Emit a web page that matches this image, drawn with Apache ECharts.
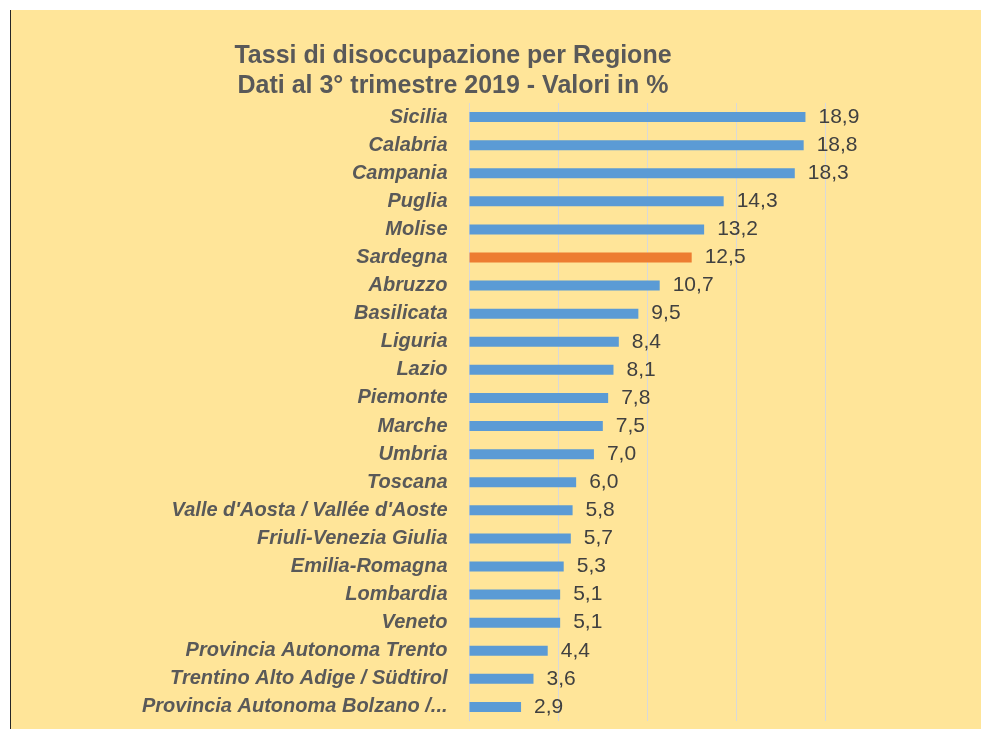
<!DOCTYPE html>
<html>
<head>
<meta charset="utf-8">
<script src="https://cdn.jsdelivr.net/npm/echarts@6/dist/echarts.min.js"></script>
<style>
  html, body { margin: 0; padding: 0; background: #ffffff; width: 981px; height: 729px; overflow: hidden; }
  #bg { position: absolute; left: 11px; top: 10px; right: 0; bottom: 0; background: #FFE599; }
  #edge { position: absolute; left: 10px; top: 10px; width: 1px; bottom: 0; background: #262626; }
  #chart { position: absolute; left: 0; top: 0; width: 981px; height: 729px; }
</style>
</head>
<body>
<div id="bg"></div>
<div id="edge"></div>
<div id="chart"></div>
<script>
const regions = [
  "Sicilia", "Calabria", "Campania", "Puglia", "Molise", "Sardegna", "Abruzzo",
  "Basilicata", "Liguria", "Lazio", "Piemonte", "Marche", "Umbria", "Toscana",
  "Valle d'Aosta / Vallée d'Aoste", "Friuli-Venezia Giulia", "Emilia-Romagna",
  "Lombardia", "Veneto", "Provincia Autonoma Trento",
  "Trentino Alto Adige / Südtirol", "Provincia Autonoma Bolzano /..."
];
const rates = [18.9, 18.8, 18.3, 14.3, 13.2, 12.5, 10.7, 9.5, 8.4, 8.1, 7.8, 7.5, 7.0, 6.0, 5.8, 5.7, 5.3, 5.1, 5.1, 4.4, 3.6, 2.9];
const highlighted = "Sardegna";
const xTicks = [0, 5, 10, 15, 20];

const chart = echarts.init(document.getElementById('chart'), null, { renderer: 'canvas' });
chart.setOption({
  backgroundColor: 'transparent',
  animation: false,
  title: {
    text: 'Tassi di disoccupazione per Regione\nDati al 3° trimestre 2019 - Valori in %',
    left: 448,
    top: 36,
    textAlign: 'center',
    textStyle: {
      fontFamily: 'Liberation Sans',
      fontWeight: 'bold',
      fontSize: 25,
      lineHeight: 30,
      color: '#595959'
    }
  },
  grid: { left: 469.5, right: 156, top: 103, bottom: 8, containLabel: false },
  xAxis: {
    type: 'value',
    min: xTicks[0],
    max: xTicks[xTicks.length - 1],
    interval: xTicks[1] - xTicks[0],
    axisLabel: { show: false },
    axisLine: { show: false },
    axisTick: { show: false },
    splitLine: { show: true, lineStyle: { color: '#D9D9D9', width: 1 } }
  },
  yAxis: {
    type: 'category',
    inverse: true,
    data: regions,
    axisLine: { show: false },
    axisTick: { show: false },
    axisLabel: {
      margin: 22,
      fontFamily: 'Liberation Sans',
      fontStyle: 'italic',
      fontWeight: 'bold',
      fontSize: 20,
      color: '#595959'
    }
  },
  series: [{
    type: 'bar',
    barWidth: 10,
    data: rates.map((v, i) => ({
      value: v,
      itemStyle: { color: regions[i] === highlighted ? '#ED7D31' : '#5B9BD5' }
    })),
    label: {
      show: true,
      position: 'right',
      distance: 13,
      fontFamily: 'Liberation Sans',
      fontSize: 21,
      color: '#404040',
      formatter: p => p.value.toFixed(1).replace('.', ',')
    }
  }]
});
</script>
</body>
</html>
